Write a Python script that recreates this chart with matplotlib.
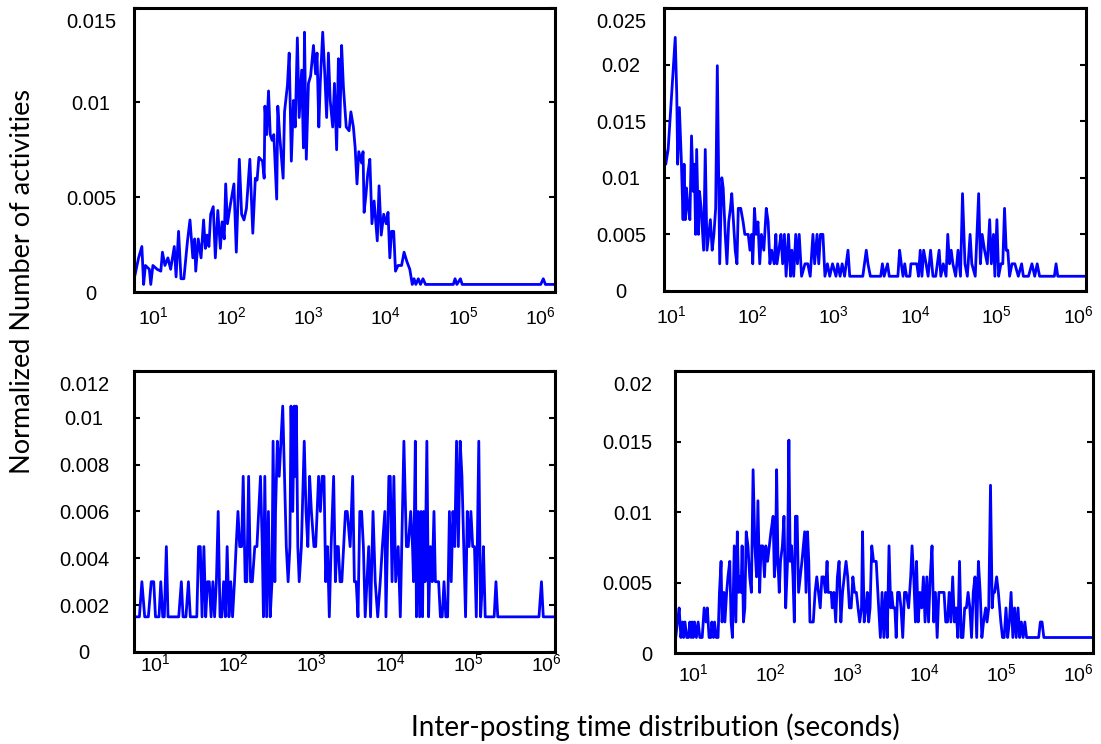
import matplotlib
matplotlib.use('Agg')
from matplotlib import pyplot as plt
from matplotlib.ticker import NullLocator
from matplotlib.transforms import ScaledTranslation

plt.rcParams['font.family'] = ['Liberation Sans', 'DejaVu Sans']
plt.rcParams['mathtext.fontset'] = 'custom'
plt.rcParams['mathtext.rm'] = 'Lato'

# top left panel
tl_sec = [5.75, 6.4, 7.05, 7.43, 7.83, 8.81, 9.19, 9.79, 11.1, 12.4, 13, 14, 15.3, 16.6, 17.5, 18.5, 19.5, 21,
          22.6, 24.6, 27.4, 29.5, 32.1, 33.9, 35, 37.7, 41, 44.2, 46.6, 49.1, 51.8, 54.6, 58.9, 62.7, 67.5, 72.8,
          76.7, 81.7, 85.3, 89.9, 98, 109, 117, 128, 137, 147, 158, 175, 191, 206, 217, 229, 255, 268, 274, 289,
          305, 321, 339, 357, 389, 402, 424, 471, 491, 535, 564, 601, 640, 675, 719, 759, 817, 861, 889, 938,
          1000, 1067, 1161, 1236, 1291, 1361, 1420, 1528, 1629, 1718, 1811, 1910, 2056, 2168, 2312, 2438, 2544,
          2683, 2829, 3076, 3350, 3532, 3806, 4013, 4236, 4467, 4864, 5070, 5236, 5521, 5821, 6209, 6607, 7047,
          7430, 7745, 8166, 8710, 9376, 10100, 10660, 11250, 11850, 12620, 13310, 14350, 15960, 17180, 18710,
          20370, 21930, 23120, 24380, 26250, 27990, 30130, 32510, 74300, 78300, 82600, 91800, 96800, 1.0e6,
          1.08e6, 1.15e6, 1.53e6]
tl_val = [0.0009, 0.0018, 0.0024, 0.0004, 0.0014, 0.0012, 0.0004, 0.0014, 0.0012, 0.0011, 0.0021, 0.0014,
          0.0018, 0.0012, 0.0018, 0.0024, 0.0008, 0.0032, 0.0007, 0.0007, 0.0027, 0.0038, 0.0018, 0.0028, 0.0011,
          0.0028, 0.0018, 0.0038, 0.0023, 0.003, 0.0024, 0.0041, 0.0045, 0.0018, 0.0043, 0.0023, 0.0037, 0.0028,
          0.0057, 0.0036, 0.0046, 0.0057, 0.0021, 0.007, 0.0041, 0.0038, 0.0044, 0.007, 0.0031, 0.006, 0.0059,
          0.0071, 0.0069, 0.006, 0.0098, 0.0083, 0.0106, 0.0083, 0.008, 0.0083, 0.0049, 0.0098, 0.0083, 0.006,
          0.0095, 0.0109, 0.0126, 0.0069, 0.0101, 0.0087, 0.0134, 0.0092, 0.0117, 0.0076, 0.0137, 0.007, 0.011,
          0.0114, 0.013, 0.0115, 0.0126, 0.0087, 0.011, 0.0137, 0.0114, 0.0092, 0.0126, 0.0101, 0.0087, 0.011,
          0.0075, 0.0123, 0.0087, 0.013, 0.0108, 0.0087, 0.0085, 0.0095, 0.0087, 0.0076, 0.0057, 0.0074, 0.0068,
          0.0074, 0.0042, 0.0051, 0.0062, 0.007, 0.0036, 0.0048, 0.0036, 0.0027, 0.0056, 0.003, 0.0041, 0.0036,
          0.0042, 0.0018, 0.0032, 0.0032, 0.0011, 0.0014, 0.0014, 0.0021, 0.0016, 0.0012, 0.0004, 0.0007, 0.0004,
          0.0007, 0.0004, 0.0007, 0.0004, 0.0004, 0.0007, 0.0004, 0.0007, 0.0004, 0.0004, 0.0007, 0.0004, 0.0004]

# top right panel
tr_sec = [8.4, 8.65, 9.25, 11.3, 11.8, 12.1, 12.7, 13.4, 14.1, 14.5, 15.0, 15.5, 16.3, 17.1, 17.9, 18.8, 19.4,
          20.1, 20.7, 21.8, 22.4, 23.5, 25.2, 26.4, 27.7, 29.1, 30.5, 32.1, 33.7, 35.4, 37.1, 39.7, 42.1, 43.8,
          46.4, 48.7, 51.2, 53.7, 55.8, 58.6, 61.5, 64.6, 67.1, 71.9, 76.9, 80.7, 88.9, 93.3, 98.1, 101, 106, 111,
          117, 123, 129, 138, 148, 156, 164, 172, 185, 194, 200, 213, 224, 235, 247, 259, 277, 294, 305, 321, 340,
          357, 375, 401, 442, 478, 512, 553, 580, 621, 652, 684, 733, 776, 832, 889, 962, 1060, 1112, 1191, 1262,
          1352, 1489, 1563, 2262, 2495, 2618, 2801, 3750, 3936, 4130, 4550, 4775, 6095, 6397, 6714, 7047, 7396,
          7762, 8551, 8810, 9440, 10400, 10910, 11460, 12020, 12620, 13520, 14320, 15350, 16410, 17750, 19550,
          20510, 21980, 23770, 24950, 26180, 27480, 28840, 31190, 33340, 35730, 37840, 40550, 43350, 46880, 49200,
          54200, 59700, 62700, 65900, 70500, 76200, 81500, 85500, 90800, 94400, 100000, 105000, 112000, 118000,
          124000, 130000, 136000, 143000, 153000, 166000, 183000, 201000, 211000, 244000, 269000, 291000, 312000,
          334000, 507000, 532000, 558000, 1.24e6]
tr_val = [0.0125, 0.0112, 0.0125, 0.0224, 0.0173, 0.0112, 0.0162, 0.0117, 0.0063, 0.0112, 0.0063, 0.0091,
          0.0073, 0.0063, 0.0137, 0.0088, 0.0112, 0.005, 0.0125, 0.005, 0.0088, 0.0073, 0.0036, 0.0125, 0.0036,
          0.005, 0.0063, 0.0036, 0.005, 0.0073, 0.0199, 0.0024, 0.01, 0.0091, 0.005, 0.0024, 0.0061, 0.0073,
          0.0086, 0.0061, 0.0036, 0.0024, 0.0073, 0.0073, 0.0061, 0.005, 0.005, 0.0036, 0.005, 0.0024, 0.0073,
          0.005, 0.0061, 0.0024, 0.005, 0.0036, 0.0073, 0.0061, 0.0024, 0.0036, 0.0024, 0.005, 0.0024, 0.0038,
          0.005, 0.0024, 0.005, 0.0013, 0.005, 0.0013, 0.0036, 0.0013, 0.005, 0.0024, 0.005, 0.0013, 0.0024,
          0.0024, 0.0013, 0.005, 0.0024, 0.005, 0.0024, 0.005, 0.005, 0.0013, 0.0024, 0.0013, 0.0024, 0.0013,
          0.0024, 0.0013, 0.0024, 0.0013, 0.0036, 0.0013, 0.0013, 0.0036, 0.0024, 0.0013, 0.0013, 0.0024, 0.0013,
          0.0024, 0.0013, 0.0013, 0.0036, 0.0024, 0.0013, 0.0024, 0.0013, 0.0013, 0.0024, 0.0024, 0.0024, 0.0013,
          0.0036, 0.0013, 0.0036, 0.0024, 0.0013, 0.0036, 0.0013, 0.0013, 0.0036, 0.0013, 0.0024, 0.0013, 0.005,
          0.0024, 0.0036, 0.0024, 0.0013, 0.0036, 0.0013, 0.0086, 0.0024, 0.0013, 0.005, 0.0024, 0.0013, 0.0086,
          0.0024, 0.005, 0.0036, 0.0024, 0.0063, 0.0024, 0.005, 0.0013, 0.0063, 0.0013, 0.0024, 0.0024, 0.0073,
          0.0036, 0.0036, 0.0013, 0.0024, 0.0024, 0.0013, 0.0024, 0.0013, 0.0013, 0.0024, 0.0013, 0.0024, 0.0013,
          0.0013, 0.0024, 0.0013, 0.0013]

# bottom left panel
bl_sec = [5.55, 6.29, 6.77, 7.36, 8.19, 8.91, 9.59, 10.1, 11.2, 11.8, 12.5, 13.1, 13.9, 14.6, 20.0, 21.6, 22.7,
          24.7, 26.6, 28.1, 34.0, 35.8, 37.7, 39.7, 41.9, 44.2, 46.6, 49.1, 51.8, 54.6, 57.4, 60.5, 63.8, 67.3,
          71.0, 74.8, 78.9, 83.0, 87.5, 92.3, 97.3, 103, 108, 114, 120, 127, 133, 141, 148, 156, 165, 174, 187,
          199, 210, 221, 233, 241, 251, 265, 279, 294, 310, 320, 337, 344, 363, 383, 404, 425, 448, 472, 498, 525,
          542, 571, 596, 615, 634, 662, 690, 735, 800, 843, 889, 937, 987, 1064, 1120, 1219, 1285, 1355, 1429,
          1503, 1585, 1671, 1762, 1897, 2000, 2084, 2178, 2291, 2415, 2547, 2685, 2831, 3083, 3319, 3491, 3681,
          3882, 4093, 4315, 4550, 4797, 5058, 5321, 5610, 6039, 6442, 6934, 7464, 7943, 8551, 8831, 9204, 9616,
          10020, 10570, 11140, 11750, 12650, 13460, 14030, 14960, 16110, 16980, 18280, 19280, 19860, 20940, 21630,
          22800, 23770, 24770, 25880, 26670, 27860, 29380, 30900, 32580, 34360, 36220, 37760, 39450, 41500, 43750,
          46130, 48640, 51290, 54080, 57020, 60120, 63240, 66680, 70310, 74130, 78160, 82410, 86900, 91620, 96390,
          101600, 107200, 113000, 119100, 125600, 135200, 142600, 150300, 154900, 163300, 212300, 223900, 236000,
          792500, 853100, 899500, 1.27e6]
bl_val = [0.0015, 0.0015, 0.003, 0.0015, 0.0015, 0.003, 0.003, 0.0015, 0.0015, 0.003, 0.0015, 0.0015, 0.0045,
          0.0015, 0.0015, 0.003, 0.0015, 0.0015, 0.003, 0.0015, 0.0015, 0.0045, 0.0045, 0.0015, 0.0045, 0.0015,
          0.003, 0.003, 0.0015, 0.003, 0.0015, 0.003, 0.006, 0.0015, 0.0015, 0.003, 0.0015, 0.0045, 0.0015, 0.003,
          0.0015, 0.003, 0.0045, 0.006, 0.0045, 0.0045, 0.0075, 0.003, 0.003, 0.0075, 0.003, 0.003, 0.0045, 0.0045,
          0.006, 0.0075, 0.0045, 0.0015, 0.0075, 0.0015, 0.006, 0.0015, 0.003, 0.009, 0.003, 0.006, 0.009, 0.0075,
          0.009, 0.0105, 0.0075, 0.0045, 0.003, 0.0045, 0.0105, 0.006, 0.0105, 0.0075, 0.0105, 0.0045, 0.003,
          0.0045, 0.009, 0.006, 0.0045, 0.0075, 0.006, 0.0045, 0.0045, 0.0075, 0.006, 0.0075, 0.0075, 0.003,
          0.0045, 0.0015, 0.0045, 0.0075, 0.003, 0.0045, 0.0045, 0.003, 0.003, 0.0045, 0.006, 0.006, 0.0045,
          0.0075, 0.003, 0.003, 0.0015, 0.006, 0.006, 0.0045, 0.0015, 0.003, 0.0045, 0.0015, 0.006, 0.003, 0.0015,
          0.003, 0.0045, 0.006, 0.0015, 0.0045, 0.0075, 0.0075, 0.003, 0.0075, 0.003, 0.0045, 0.0015, 0.0045,
          0.009, 0.0045, 0.0045, 0.006, 0.0045, 0.003, 0.009, 0.0015, 0.006, 0.0015, 0.006, 0.0015, 0.006, 0.003,
          0.009, 0.0015, 0.0045, 0.003, 0.006, 0.003, 0.003, 0.003, 0.0015, 0.0015, 0.003, 0.0015, 0.0015, 0.006,
          0.003, 0.006, 0.0045, 0.009, 0.0045, 0.009, 0.0075, 0.0045, 0.0015, 0.006, 0.0045, 0.006, 0.0045,
          0.0045, 0.0015, 0.009, 0.0015, 0.003, 0.0045, 0.0015, 0.0015, 0.003, 0.0015, 0.0015, 0.003, 0.0015,
          0.0015]

# bottom right panel
br_sec = [5.98, 6.30, 6.63, 6.98, 7.35, 7.57, 7.89, 8.31, 8.75, 9.12, 9.50, 9.79, 10.1, 10.5, 11.1, 11.7, 12.3,
          13.2, 14.0, 14.8, 15.4, 16.2, 17.1, 17.6, 18.5, 19.1, 20.1, 21.2, 22.1, 23.2, 23.9, 25.2, 26.0, 27.4,
          28.5, 30.1, 31.3, 32.6, 34.4, 36.1, 37.7, 39.3, 40.9, 42.2, 43.5, 45.3, 47.2, 49.2, 51.8, 54.6, 57.4,
          60.4, 63.7, 67.0, 69.8, 73.5, 76.6, 80.5, 84.9, 88.3, 93.1, 98.0, 103, 110, 114, 118, 122, 127, 132, 137,
          145, 152, 160, 169, 176, 183, 191, 199, 207, 214, 225, 235, 247, 260, 271, 282, 294, 307, 319, 330, 365,
          385, 405, 426, 449, 472, 497, 524, 551, 568, 592, 624, 643, 676, 713, 750, 789, 832, 875, 920, 971, 1021,
          1074, 1132, 1191, 1253, 1321, 1390, 1462, 1542, 1589, 1671, 1762, 1832, 1910, 1991, 2094, 2208, 2393,
          2576, 2710, 2851, 3006, 3162, 3327, 3508, 3690, 3802, 3963, 4178, 4345, 4529, 4775, 5023, 5284, 5572,
          5861, 6295, 6699, 6982, 7345, 7727, 7980, 8395, 8831, 9311, 9795, 10300, 10860, 11430, 12020, 12680,
          13340, 14030, 14790, 15560, 16370, 17260, 18160, 19100, 20140, 21180, 22280, 23500, 24720, 26000, 27420,
          28840, 30340, 31920, 33650, 35400, 37240, 39260, 41300, 43450, 45810, 48190, 50700, 53460, 56230, 59160,
          62950, 65610, 69020, 72780, 76560, 78890, 82220, 87500, 92040, 99080, 104200, 109600, 115600, 121600,
          127900, 134600, 141900, 149300, 157000, 165600, 174200, 183200, 193200, 203200, 213800, 306900, 322800,
          339600, 358100, 1.56e6]
br_val = [0.0011, 0.0022, 0.0032, 0.0011, 0.0022, 0.0011, 0.0022, 0.0011, 0.0011, 0.0022, 0.0011, 0.0022,
          0.0011, 0.0022, 0.0011, 0.0022, 0.0011, 0.0011, 0.0032, 0.0022, 0.0032, 0.0011, 0.0011, 0.0022, 0.0011,
          0.0022, 0.0011, 0.0011, 0.0043, 0.0065, 0.0022, 0.0043, 0.0022, 0.0043, 0.0054, 0.0065, 0.0022, 0.0011,
          0.0076, 0.0022, 0.0086, 0.0043, 0.0054, 0.0043, 0.0076, 0.0022, 0.0032, 0.0086, 0.0076, 0.0054, 0.0043,
          0.013, 0.0076, 0.0054, 0.0108, 0.0043, 0.0076, 0.0076, 0.0054, 0.0076, 0.0065, 0.0076, 0.0086, 0.0097,
          0.0054, 0.0065, 0.013, 0.0065, 0.0043, 0.0065, 0.0076, 0.0097, 0.0032, 0.0065, 0.0151, 0.0065, 0.0076,
          0.0054, 0.0022, 0.0097, 0.0097, 0.0043, 0.0054, 0.0065, 0.0076, 0.0086, 0.0043, 0.0086, 0.0065, 0.0022,
          0.0022, 0.0043, 0.0054, 0.0043, 0.0032, 0.0054, 0.0054, 0.0043, 0.0065, 0.0043, 0.0043, 0.0043, 0.0032,
          0.0043, 0.0022, 0.0054, 0.0065, 0.0022, 0.0043, 0.0054, 0.0065, 0.0054, 0.0032, 0.0032, 0.0054, 0.0043,
          0.0043, 0.0032, 0.0022, 0.0032, 0.0086, 0.0022, 0.0032, 0.0043, 0.0022, 0.0032, 0.0076, 0.0065, 0.0065,
          0.0032, 0.0011, 0.0043, 0.0011, 0.0043, 0.0011, 0.0076, 0.0032, 0.0043, 0.0032, 0.0032, 0.0011, 0.0043,
          0.0043, 0.0032, 0.0011, 0.0043, 0.0043, 0.0032, 0.0054, 0.0076, 0.0054, 0.0022, 0.0065, 0.0022, 0.0043,
          0.0032, 0.0054, 0.0022, 0.0054, 0.0022, 0.0054, 0.0076, 0.0022, 0.0043, 0.0011, 0.0043, 0.0043, 0.0043,
          0.0043, 0.0022, 0.0022, 0.0043, 0.0022, 0.0054, 0.0022, 0.0032, 0.0011, 0.0065, 0.0011, 0.0011, 0.0032,
          0.0032, 0.0043, 0.0032, 0.0011, 0.0043, 0.0054, 0.0011, 0.0065, 0.0043, 0.0011, 0.0022, 0.0032, 0.0022,
          0.0032, 0.0119, 0.0032, 0.0043, 0.0043, 0.0054, 0.0043, 0.0022, 0.0011, 0.0011, 0.0032, 0.0011, 0.0022,
          0.0043, 0.0011, 0.0032, 0.0011, 0.0032, 0.0011, 0.0022, 0.0011, 0.0022, 0.0011, 0.0011, 0.0022, 0.0022,
          0.0011, 0.0011]

xtick_pos = [1e1, 1e2, 1e3, 1e4, 1e5, 1e6]
xtick_lab = [r'$\mathregular{10^{%d}}$' % k for k in range(1, 7)]

fig = plt.figure(figsize=(11.01, 7.44), dpi=100)
# the top value label of each panel sits a little below the frame top
top_shift = ScaledTranslation(0, -9 / 72, fig.dpi_scale_trans)


def panel(rect, sec, val, xlim, ylim, yticks, ylabels, ypad, ha, xpad):
    ax = fig.add_axes(rect)
    ax.plot(sec, val, color='#0000ff', linewidth=2.0)
    ax.set_xscale('log')
    ax.set_xlim(xlim)
    ax.set_ylim(ylim)
    ax.set_xticks(xtick_pos, xtick_lab)
    ax.xaxis.set_minor_locator(NullLocator())
    ax.tick_params(axis='x', length=0, pad=xpad, labelsize=14)
    ax.set_yticks(yticks, ylabels)
    ax.tick_params(axis='y', direction='in', length=4, width=1.5, left=True, right=True,
                   pad=ypad, labelsize=14.5)
    for lbl in ax.get_yticklabels():
        lbl.set_horizontalalignment(ha)
    top = ax.get_yticklabels()[-1]
    top.set_transform(top.get_transform() + top_shift)
    for s in ax.spines.values():
        s.set_linewidth(2.2)
    return ax


panel([0.1217, 0.6075, 0.3824, 0.3824], tl_sec, tl_val, (5.58, 1.53e6), (0, 0.015),
      [0, 0.005, 0.01, 0.015], ['0', '0.005', '0.01', '0.015'], 31, 'center', 10)
panel([0.6031, 0.6089, 0.3833, 0.3804], tr_sec, tr_val, (8.23, 1.24e6), (0, 0.025),
      [0, 0.005, 0.01, 0.015, 0.02, 0.025], ['0', '0.005', '0.01', '0.015', '0.02', '0.025'], 31, 'center', 10)
panel([0.1217, 0.1237, 0.3824, 0.3777], bl_sec, bl_val, (5.37, 1.27e6), (0, 0.012),
      [0, 0.002, 0.004, 0.006, 0.008, 0.01, 0.012], ['0', '0.002', '0.004', '0.006', '0.008', '0.01', '0.012'],
      36, 'center', 1)
panel([0.6131, 0.1223, 0.3797, 0.379], br_sec, br_val, (5.86, 1.56e6), (0, 0.02),
      [0, 0.005, 0.01, 0.015, 0.02], ['0', '0.005', '0.01', '0.015', '0.02'], 16.5, 'right', 7)

fig.text(0.02, 0.621, 'Normalized Number of activities', rotation=90, ha='center', va='center',
         fontsize=19.5, family=['Lato', 'DejaVu Sans'])
fig.text(0.595, 0.023, 'Inter-posting time distribution (seconds)', ha='center', va='center',
         fontsize=20, family=['Lato', 'DejaVu Sans'])

fig.savefig('out.png', dpi=100)
